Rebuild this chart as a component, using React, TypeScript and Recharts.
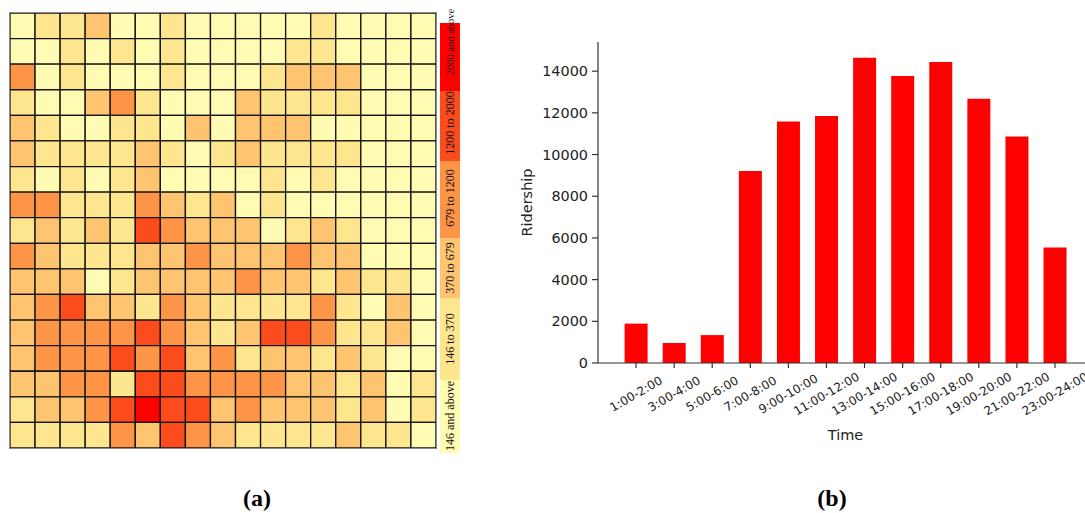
import React from 'react';
import { BarChart, Bar, XAxis, YAxis, Cell } from 'recharts';

// ---------- (a) spatial heat map: level index per cell, rows top -> bottom ----------
const heatRows: string[] = [
  '01120010000010000',
  '00101010000110000',
  '30100010001222000',
  '10023100021111000',
  '21001102022200000',
  '21111210121111000',
  '10101200001010000',
  '33111321201000000',
  '12121432220121000',
  '32111223222322000',
  '22201222232212110',
  '23422132111131020',
  '23333432124431120',
  '23334342312212100',
  '22331443333221201',
  '12234544232221201',
  '11113243211112110',
];
const levelColors = ['#FFFBB3', '#FEE68E', '#FEC46F', '#FE9446', '#FC4C1B', '#FF0000'];
const legendLabels = ['146 and above', '146 to 370', '370 to 679', '679 to 1200', '1200 to 2000', '2000 and above'];

// ---------- (b) temporal distribution ----------
const timeSlots = [
  '1:00-2:00', '3:00-4:00', '5:00-6:00', '7:00-8:00', '9:00-10:00', '11:00-12:00',
  '13:00-14:00', '15:00-16:00', '17:00-18:00', '19:00-20:00', '21:00-22:00', '23:00-24:00',
];
const ridership = [1890, 960, 1340, 9210, 11590, 11850, 14650, 13770, 14440, 12680, 10870, 5540];
const yTicks = [0, 2000, 4000, 6000, 8000, 10000, 12000, 14000];

const nCols = heatRows[0].length;
const heatLevels = heatRows.map((row) => row.split('').map((ch) => Number(ch)));
const heatData = Array.from({ length: nCols }, (_, c) => {
  const o: Record<string, number> = { col: c };
  heatLevels.forEach((_, r) => {
    o[`r${r}`] = 1;
  });
  return o;
});

const barData = timeSlots.map((t, i) => ({ time: t, value: ridership[i] }));

// legend layout (pixel boundaries bottom -> top, label centres and sizes)
const legendBounds = [453, 380, 298, 238, 161, 91, 23];
const legendTextY = [416, 339, 268, 198, 123, 42];
const legendFont = [12, 12, 12, 12, 12, 10.5];

const sansFont = 'DejaVu Sans, sans-serif';
const serifFont = 'Liberation Serif, Times New Roman, serif';

const XTick = (props: any) => {
  const { x, y, payload } = props;
  const cy = y + 23;
  return (
    <text
      x={x}
      y={cy}
      transform={`rotate(-30 ${x} ${cy})`}
      textAnchor="middle"
      dominantBaseline="central"
      fontSize={12}
      fill="#222"
      fontFamily={sansFont}
    >
      {payload.value}
    </text>
  );
};

export default function App() {
  return (
    <div
      style={{
        position: 'fixed',
        left: 0,
        top: 0,
        width: 1085,
        height: 513,
        overflow: 'hidden',
        background: '#fff',
      }}
    >
      {/* (a) heat map */}
      <div style={{ position: 'absolute', left: 9, top: 12, width: 428, height: 437 }}>
        <BarChart
          width={428}
          height={437}
          data={heatData}
          margin={{ top: 1, right: 1, bottom: 1, left: 1 }}
          barCategoryGap={0}
          barGap={0}
        >
          <XAxis dataKey="col" type="category" hide />
          <YAxis type="number" domain={[0, heatRows.length]} reversed hide allowDataOverflow />
          {heatLevels.map((row, r) => (
            <Bar
              key={r}
              dataKey={`r${r}`}
              stackId="h"
              isAnimationActive={false}
              stroke="#151515"
              strokeWidth={1.3}
            >
              {row.map((lv, c) => (
                <Cell key={c} fill={levelColors[lv]} />
              ))}
            </Bar>
          ))}
        </BarChart>
      </div>
      <div
        style={{
          position: 'absolute',
          left: 9,
          top: 12,
          width: 426,
          height: 435,
          border: '1px solid #8a8a8a',
          pointerEvents: 'none',
        }}
      />

      {/* legend colour key + captions */}
      <svg
        width={1085}
        height={513}
        style={{ position: 'absolute', left: 0, top: 0, pointerEvents: 'none' }}
      >
        {legendLabels.map((lab, i) => (
          <rect
            key={lab}
            x={440}
            y={legendBounds[i + 1]}
            width={20}
            height={legendBounds[i] - legendBounds[i + 1]}
            fill={levelColors[i]}
          />
        ))}
        {legendLabels.map((lab, i) => (
          <text
            key={lab}
            x={450}
            y={legendTextY[i]}
            transform={`rotate(-90 450 ${legendTextY[i]})`}
            textAnchor="middle"
            dominantBaseline="central"
            fontSize={legendFont[i]}
            fontFamily={serifFont}
            fill="#111"
          >
            {lab}
          </text>
        ))}
        <text x={257} y={506} textAnchor="middle" fontSize={24} fontWeight="bold" fontFamily={serifFont} fill="#000">
          (a)
        </text>
        <text x={832} y={506} textAnchor="middle" fontSize={24} fontWeight="bold" fontFamily={serifFont} fill="#000">
          (b)
        </text>
      </svg>

      {/* (b) bar chart */}
      <div style={{ position: 'absolute', left: 480, top: 0 }}>
        <BarChart
          width={640}
          height={470}
          data={barData}
          margin={{ top: 42, right: 27, bottom: 0, left: 0 }}
          barCategoryGap="20%"
        >
          <XAxis
            dataKey="time"
            type="category"
            height={107}
            padding={{ left: 19, right: 19 }}
            interval={0}
            tick={<XTick />}
            tickSize={5}
            tickMargin={3}
            axisLine={{ stroke: '#333', strokeWidth: 1.2 }}
            tickLine={{ stroke: '#333', strokeWidth: 1.2 }}
            label={{
              value: 'Time',
              position: 'insideBottom',
              offset: 30,
              fontSize: 14.5,
              fill: '#222',
              fontFamily: sansFont,
            }}
          />
          <XAxis
            xAxisId="top"
            dataKey="time"
            orientation="top"
            height={0}
            tick={false}
            tickLine={false}
            axisLine={{ stroke: '#333', strokeWidth: 1.2 }}
            label={{
              value: 'Temporal distribution',
              position: 'top',
              offset: 9,
              fontSize: 17.5,
              fill: '#222',
              fontFamily: sansFont,
            }}
          />
          <YAxis
            type="number"
            domain={[0, 15400]}
            ticks={yTicks}
            width={118}
            tickSize={6}
            tickMargin={4}
            tick={{ fontSize: 14.4, fill: '#222', fontFamily: sansFont }}
            axisLine={{ stroke: '#333', strokeWidth: 1.2 }}
            tickLine={{ stroke: '#333', strokeWidth: 1.2 }}
            allowDataOverflow
            label={{
              value: 'Ridership',
              angle: -90,
              position: 'insideLeft',
              offset: 47,
              fontSize: 14.5,
              fill: '#222',
              fontFamily: sansFont,
              style: { textAnchor: 'middle' },
            }}
          />
          <YAxis
            yAxisId="right"
            orientation="right"
            type="number"
            domain={[0, 15400]}
            width={0}
            tick={false}
            tickLine={false}
            axisLine={{ stroke: '#333', strokeWidth: 1.2 }}
          />
          <Bar dataKey="value" fill="#FF0000" isAnimationActive={false} />
        </BarChart>
      </div>
    </div>
  );
}
